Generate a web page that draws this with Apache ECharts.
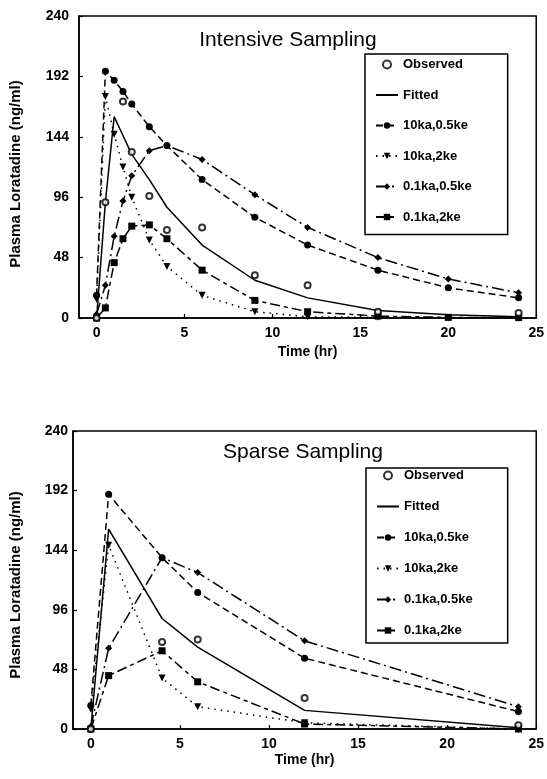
<!DOCTYPE html>
<html>
<head>
<meta charset="utf-8">
<script src="https://cdn.jsdelivr.net/npm/echarts@6/dist/echarts.min.js"></script>
<style>
  html, body { margin: 0; padding: 0; background: #fff; }
  #main { width: 547px; height: 779px; }
</style>
</head>
<body>
<div id="main"></div>
<script>
// intensive sampling (top panel)
var times1 = [0, 0.5, 1, 1.5, 2, 3, 4, 6, 9, 12, 16, 20, 24];
var observed1 = [0, 92, null, 172, 132, 97, 70, 72, 34, 26, 5, null, 4];
var fitted1 = [0, 92, 160, 145, 130, 110, 88, 58, 30, 16, 6, 2.5, 1];
var ka10ke05_1 = [18, 196, 189, 180, 170, 152, 137, 110, 80, 58, 38, 24, 16];
var ka10ke2_1 = [15, 176, 146, 120, 96, 62, 41, 18, 5, 1, 0.5, 0, 0];
var ka01ke05_1 = [3, 26, 65, 93, 113, 133, 137, 126, 98, 72, 48, 31, 20];
var ka01ke2_1 = [0, 8, 44, 63, 73, 74, 63, 38, 14, 5, 1.5, 0.5, 0.3];

// sparse sampling (bottom panel)
var times2 = [0, 1, 4, 6, 12, 24];
var observed2 = [0, null, 70, 72, 25, 3];
var fitted2 = [0, 161, 89, 66, 15, 1];
var ka10ke05_2 = [19, 189, 138, 110, 57, 14];
var ka10ke2_2 = [16, 148, 41, 18, 5, 0];
var ka01ke05_2 = [2, 65, 138, 126, 71, 18];
var ka01ke2_2 = [0, 43, 63, 38, 4, 0];

var xTicks = [0, 5, 10, 15, 20, 25];
var names = ['Observed', 'Fitted', '10ka,0.5ke', '10ka,2ke', '0.1ka,0.5ke', '0.1ka,2ke'];

var FONT = 'Liberation Sans';

function pairs(xs, ys) {
    var out = [];
    for (var i = 0; i < xs.length; i++) out.push([xs[i], ys[i]]);
    return out;
}

function makeSeries(idx, xs, obs, fit, a, b, c, d) {
    var base = function (name, data, symbol, dash) {
        return {
            name: name, type: 'line', xAxisIndex: idx, yAxisIndex: idx,
            data: pairs(xs, data), symbol: symbol, symbolSize: 7,
            symbolRotate: symbol === 'triangle' ? 180 : 0,
            connectNulls: true,
            itemStyle: { color: '#000' },
            lineStyle: { color: '#000', width: 1.5, type: dash },
            emphasis: { disabled: true }
        };
    };
    return [
        {
            name: 'Observed', type: 'scatter', xAxisIndex: idx, yAxisIndex: idx,
            data: pairs(xs, obs).filter(function (p) { return p[1] != null; }),
            symbol: 'emptyCircle', symbolSize: 6,
            itemStyle: { color: '#000', borderWidth: 1.2 }, z: 5
        },
        base('Fitted', fit, 'none', 'solid'),
        base('10ka,0.5ke', a, 'circle', [7, 4]),
        base('10ka,2ke', b, 'triangle', [1.5, 5]),
        base('0.1ka,0.5ke', c, 'diamond', [12, 4, 2, 4]),
        base('0.1ka,2ke', d, 'rect', [10, 4, 4, 4])
    ];
}

function xAxisOf(idx, gap) {
    return {
        type: 'value', gridIndex: idx, min: -1, max: 25,
        name: 'Time (hr)', nameLocation: 'middle', nameGap: gap,
        nameTextStyle: { color: '#000', fontFamily: FONT, fontWeight: 'bold', fontSize: 14 },
        axisLine: { onZero: false, lineStyle: { color: '#000', width: 1.5 } },
        axisTick: { inside: true, length: 4, customValues: xTicks, lineStyle: { color: '#000', width: 1.2 } },
        axisLabel: { customValues: xTicks, color: '#000', fontFamily: FONT, fontWeight: 'bold', fontSize: 14, margin: 8 },
        splitLine: { show: false }
    };
}

function yAxisOf(idx, gap, margin, shift) {
    return {
        type: 'value', gridIndex: idx, min: 0, max: 240, interval: 48,
        name: 'Plasma Loratadine (ng/ml)', nameLocation: 'middle', nameGap: gap,
        nameTextStyle: { color: '#000', fontFamily: FONT, fontWeight: 'bold', fontSize: 15, padding: [0, shift, 0, 0] },
        axisLine: { onZero: false, lineStyle: { color: '#000', width: 1.5 } },
        axisTick: { inside: true, length: 4, lineStyle: { color: '#000', width: 1.2 } },
        axisLabel: { color: '#000', fontFamily: FONT, fontWeight: 'bold', fontSize: 14, margin: margin },
        splitLine: { show: false }
    };
}

function legendOf(left, top, pad, gap) {
    return {
        orient: 'vertical', left: left, top: top, padding: pad, itemGap: gap,
        itemWidth: 22, itemHeight: 8,
        data: names.map(function (n) {
            return n === 'Fitted' ? { name: n, itemStyle: { opacity: 0 } } : { name: n };
        }),
        borderColor: '#000', borderWidth: 1.5, backgroundColor: '#fff',
        selectedMode: false,
        textStyle: { color: '#000', fontFamily: FONT, fontWeight: 'bold', fontSize: 13 }
    };
}

var myChart = echarts.init(document.getElementById('main'), null, { renderer: 'canvas' });
var option = {
    animation: false,
    backgroundColor: '#fff',
    grid: [
        { left: 79, top: 16, width: 460, height: 302, show: true, borderColor: '#000', borderWidth: 1.5 },
        { left: 73, top: 431, width: 464, height: 298, show: true, borderColor: '#000', borderWidth: 1.5 }
    ],
    xAxis: [xAxisOf(0, 27), xAxisOf(1, 24)],
    yAxis: [yAxisOf(0, 56, 10, 14), yAxisOf(1, 50, 5, 10)],
    legend: [
        legendOf(365, 54, [4, 36, 11, 10], 17.5),
        legendOf(366, 468, [1, 35, 6, 10], 18)
    ],
    graphic: [
        { type: 'text', x: 288, y: 40, style: { text: 'Intensive Sampling', align: 'center', verticalAlign: 'middle', fill: '#000', font: '21px "Liberation Sans"' } },
        { type: 'text', x: 303, y: 452, style: { text: 'Sparse Sampling', align: 'center', verticalAlign: 'middle', fill: '#000', font: '21px "Liberation Sans"' } }
    ],
    series: makeSeries(0, times1, observed1, fitted1, ka10ke05_1, ka10ke2_1, ka01ke05_1, ka01ke2_1)
        .concat(makeSeries(1, times2, observed2, fitted2, ka10ke05_2, ka10ke2_2, ka01ke05_2, ka01ke2_2))
};
myChart.setOption(option);
window.onresize = function () {
    myChart.resize();
};
</script>
</body>
</html>
